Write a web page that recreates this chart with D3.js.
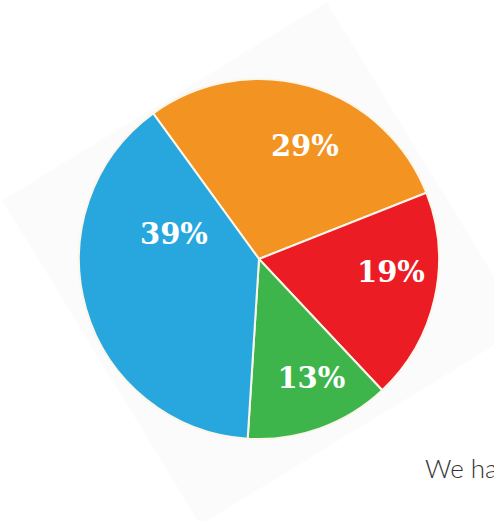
<!DOCTYPE html>
<html>
<head>
<meta charset="utf-8">
<script src="https://cdn.jsdelivr.net/npm/d3@7"></script>
<style>
    html, body { margin: 0; padding: 0; background: #ffffff; }
    svg { display: block; }
</style>
</head>
<body>
<svg></svg>
<script>
// data, clockwise from the top
const categories = ['orange', 'red', 'green', 'blue']
const shares = [29, 19, 13, 39]
const labels = ['29%', '19%', '13%', '39%']
const colors = ['#f39322', '#ec1c24', '#3db54a', '#27a7de']

const width = 494
const height = 521
const cx = 259
const cy = 259
const radius = 180
const startDeg = -36

// small label nudges (px) off the label arc
const labelNudge = [[11, 7], [10, -14], [10, 1], [35, -60]]

let svg = d3.select('svg')
    .attr('width', width)
    .attr('height', height)

// faint tilted card behind the pie
svg.append('rect')
    .attr('x', -190)
    .attr('y', -190)
    .attr('width', 380)
    .attr('height', 380)
    .attr('fill', '#fbfbfb')
    .attr('transform', 'translate(263.5,263.5) rotate(-31.4)')

let pie = d3.pie()
    .sort(null)
    .value(d => d)
    .startAngle(startDeg * Math.PI / 180)
    .endAngle((startDeg + 360) * Math.PI / 180)

let arcs = pie(shares)

let arc = d3.arc()
    .innerRadius(0)
    .outerRadius(radius)

let labelArc = d3.arc()
    .innerRadius(125)
    .outerRadius(125)

let g = svg.append('g')
    .attr('transform', 'translate(' + cx + ',' + cy + ')')

g.selectAll('path')
    .data(arcs)
    .enter()
    .append('path')
    .attr('class', (d, i) => 'slice ' + categories[i])
    .attr('d', arc)
    .attr('fill', (d, i) => colors[i])
    .attr('stroke', '#fbf6ea')
    .attr('stroke-width', 2)

g.selectAll('text')
    .data(arcs)
    .enter()
    .append('text')
    .attr('x', (d, i) => labelArc.centroid(d)[0] + labelNudge[i][0])
    .attr('y', (d, i) => labelArc.centroid(d)[1] + labelNudge[i][1])
    .attr('dy', '0.35em')
    .attr('text-anchor', 'middle')
    .attr('fill', '#ffffff')
    .attr('font-family', "Georgia, 'DejaVu Serif', serif")
    .attr('font-weight', 'bold')
    .attr('font-size', 29)
    .text((d, i) => labels[i])

// cut-off body text at the bottom right
svg.append('text')
    .attr('x', 425)
    .attr('y', 478)
    .attr('fill', '#333333')
    .attr('font-family', 'Lato, sans-serif')
    .attr('font-weight', 300)
    .attr('font-size', 26)
    .text('We have')
</script>
</body>
</html>
